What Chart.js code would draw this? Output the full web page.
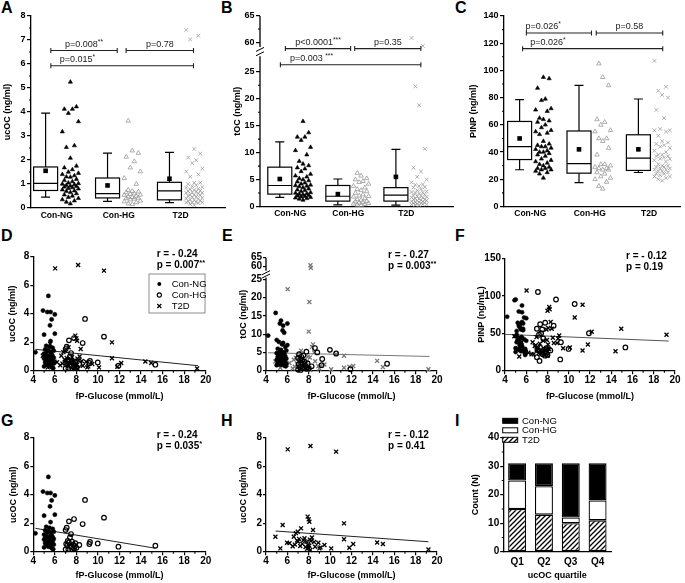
<!DOCTYPE html>
<html>
<head>
<meta charset="utf-8">
<title>Osteocalcin, PINP and fasting glucose</title>
<script src="https://cdn.jsdelivr.net/npm/chart.js@4.4.1/dist/chart.umd.min.js"></script>
<style>
  html, body { margin: 0; padding: 0; background: #fff; }
  body { position: relative; width: 685px; height: 583px; overflow: hidden; }
  canvas { position: absolute; }
  .tag { position: absolute; font: bold 16px 'Liberation Sans', Arial, sans-serif; line-height: 16px; color: #000; }
</style>
</head>
<body>
<div class="tag" style="left:1px;top:0px">A</div>
<div class="tag" style="left:221px;top:0px">B</div>
<div class="tag" style="left:455px;top:0px">C</div>
<div class="tag" style="left:1px;top:228px">D</div>
<div class="tag" style="left:222px;top:228px">E</div>
<div class="tag" style="left:455px;top:228px">F</div>
<div class="tag" style="left:1px;top:413px">G</div>
<div class="tag" style="left:221px;top:413px">H</div>
<div class="tag" style="left:455px;top:413px">I</div>
<script>
// ---- data ----
const groups = ['Con-NG', 'Con-HG', 'T2D'];

// Con-NG subjects (fP-glucose, ucOC, tOC, PINP)
const ngGlucose = [5.4, 4.9, 5.3, 5.6, 6.0, 5.7, 5.55, 6.0, 5.0, 5.6, 4.2,
    5.2, 5.5, 5.8, 5.1, 5.4, 5.9, 5.3, 5.6, 5.0, 5.7, 5.2, 5.5, 5.8, 5.4, 5.1, 5.6, 5.3, 5.9,
    5.5, 5.0, 5.7, 5.2, 5.4, 5.6, 5.8, 5.3, 5.1, 5.5, 5.9, 5.2, 5.6, 5.4, 5.0, 5.7, 5.85];
const ngUcoc = [5.25, 4.22, 4.12, 4.12, 3.95, 3.6, 3.18, 2.6, 2.53, 2.08, 1.29,
    1.75, 1.68, 1.6, 1.5, 1.45, 1.4, 1.35, 1.3, 1.2, 1.15, 1.1, 1.05, 1.02, 1.0, 0.98, 0.95, 0.92, 0.9,
    0.88, 0.85, 0.82, 0.8, 0.76, 0.72, 0.7, 0.65, 0.6, 0.55, 0.5, 0.45, 0.4, 0.35, 0.3, 0.25, 0.18];
const ngToc = [13.7, 15.8, 12.9, 12.3, 12.9, 10.4, 11.0, 7.0, 8.4, 7.6, 9.6,
    7.9, 7.2, 6.5, 6.0, 5.7, 5.5, 5.2, 5.0, 4.8, 4.6, 4.4, 4.2, 4.0, 3.9, 3.8, 3.7, 3.5, 3.3,
    3.1, 3.0, 2.8, 2.6, 2.5, 2.4, 2.3, 2.2, 2.1, 2.0, 1.9, 1.8, 1.7, 1.6, 1.5, 1.4, 1.2];
const ngPinp = [58, 94, 79, 87, 40, 63, 45, 70, 95, 32, 72,
    41, 55, 28, 38, 62, 27, 44, 65, 30, 54, 40, 26, 71, 35, 48, 33, 60, 29,
    43, 25, 56, 39, 31, 78, 42, 28, 53, 37, 21, 64, 44, 34, 46, 27, 24];

// Con-HG subjects
const hgGlucose = [8.8, 10.56, 7.78, 7.31, 8.58, 7.1, 7.0, 7.5, 7.4, 7.2, 7.6, 9.26, 7.3, 7.9, 9.98,
    7.05, 9.2, 7.7, 8.27, 7.15, 15.33, 7.85, 7.45, 11.9, 7.55, 8.0, 7.78, 7.0, 7.25];
const hgUcoc = [3.63, 2.39, 2.29, 2.13, 1.94, 1.68, 1.52, 1.24, 1.0, 0.75, 0.7, 0.68, 0.65, 0.6, 0.58,
    0.55, 0.54, 0.5, 0.47, 0.45, 0.42, 0.4, 0.38, 0.35, 0.3, 0.27, 0.23, 0.16, 0.18];
const hgToc = [5.0, 4.7, 5.2, 3.8, 6.2, 4.5, 3.5, 4.2, 2.8, 3.0, 2.5, 3.2, 2.2, 2.0, 5.7,
    1.8, 1.5, 1.3, 1.2, 1.0, 1.9, 0.9, 0.8, 0.4, 0.7, 0.6, 0.5, 0.3, 0.2];
const hgPinp = [95, 89, 64, 62, 60, 105, 56, 55, 50, 48, 43, 38, 31, 30, 29,
    28, 15, 28, 27, 27, 31, 25, 24, 50, 22, 21, 20, 18, 13];

// T2D subjects
const t2dGlucose = [8.16, 6.03, 10.56, 7.9, 8.0, 8.06, 11.3, 5.56, 7.28, 8.4,
    6.97, 6.8, 4.88, 6.6, 8.3, 7.6, 7.1, 11.3, 8.1, 7.5,
    6.9, 8.2, 7.0, 7.8, 8.5, 14.4, 5.97, 8.9, 6.2, 7.4,
    12.16, 14.94, 6.7, 9.47, 7.95, 8.05, 7.2, 6.5, 8.6, 7.7,
    9.1, 11.8, 8.0, 5.34, 9.0, 10.1, 7.85, 19.2, 8.15];
const t2dUcoc = [7.42, 7.18, 7.02, 2.46, 2.27, 2.1, 1.99, 1.87, 1.64, 1.52,
    1.4, 1.3, 1.05, 1.05, 1.0, 0.95, 0.9, 0.87, 0.85, 0.8,
    0.78, 0.75, 0.72, 0.7, 0.68, 0.65, 0.63, 0.63, 0.6, 0.55,
    0.54, 0.54, 0.5, 0.47, 0.45, 0.42, 0.4, 0.38, 0.35, 0.33,
    0.3, 0.28, 0.25, 0.23, 0.23, 0.23, 0.2, 0.16, 0.12];
const t2dToc = [60.8, 22.3, 4.5, 3.8, 10.7, 18.8, 4.1, 3.2, 5.5, 7.2,
    4.0, 3.5, 2.5, 3.0, 6.5, 2.8, 2.2, 0.8, 3.6, 2.0,
    1.8, 59.3, 1.5, 2.4, 5.0, 2.7, 1.6, 1.2, 2.1, 1.4,
    1.3, 1.0, 1.1, 1.7, 0.9, 0.7, 1.9, 0.6, 2.6, 0.5,
    1.3, 1.1, 0.4, 0.8, 0.6, 0.4, 0.3, 0.4, 0.2];
const t2dPinp = [85, 107, 71, 55, 80, 57, 88, 38, 36, 56,
    45, 33, 46, 38, 65, 40, 30, 27, 29, 26,
    34, 82, 28, 27, 44, 26, 25, 37, 24, 23,
    52, 56, 22, 30, 41, 35, 24, 22, 37, 21,
    47, 35, 20, 19, 43, 31, 28, 48, 29];

// box summaries per group (Con-NG, Con-HG, T2D)
const ucocBox = { low: [0.45, 0.28, 0.22], q1: [0.73, 0.42, 0.34], med: [1.03, 0.6, 0.71], q3: [1.71, 1.25, 1.07], high: [3.95, 2.29, 2.32], mean: [1.55, 0.94, 1.22] };
const tocBox = { low: [1.7, 0.3, 0.25], q1: [2.3, 1.0, 1.0], med: [3.9, 1.9, 2.1], q3: [7.3, 3.9, 3.5], high: [12.0, 5.1, 10.6], mean: [5.1, 2.3, 5.5] };
const pinpBox = { low: [27, 17.5, 25], q1: [34.5, 24.5, 26.5], med: [44, 31.5, 35.5], q3: [62.5, 55.5, 52.7], high: [78.5, 89, 79], mean: [50, 42, 42] };

const ucocP = ['p=0.008**', 'p=0.78', 'p=0.015*'];
const tocP = ['p<0.0001***', 'p=0.35', 'p=0.003 ***'];
const pinpP = ['p=0.026*', 'p=0.58', 'p=0.026*'];

const corrD = ['r = - 0.24', 'p = 0.007**'];
const corrE = ['r = - 0.27', 'p = 0.003**'];
const corrF = ['r = - 0.12', 'p = 0.19'];
const corrG = ['r = - 0.24', 'p = 0.035*'];
const corrH = ['r = - 0.12', 'p = 0.41'];

// regression line end points
const fitD = [[4.2, 1.5], [19.3, 0.35]];
const fitE = [[4.2, 4.9], [19.3, 3.9]];
const fitF = [[4.0, 48.5], [19.4, 39.6]];
const fitG = [[4.2, 1.64], [15.35, 0.24]];
const fitH = [[4.9, 1.45], [19.2, 0.7]];

const quartiles = ['Q1', 'Q2', 'Q3', 'Q4'];
const qNG = [6, 8, 19, 13];
const qHG = [10, 10, 2, 7];
const qT2D = [15, 13, 10, 11];

// ---- setup ----
const FAMILY = "'Liberation Sans', Arial, Helvetica, sans-serif";
const black = '#000';
const clear = 'rgba(0,0,0,0)';
Chart.defaults.font.family = FAMILY;
Chart.defaults.color = black;
Chart.defaults.animation = false;
Chart.defaults.plugins.legend.display = false;
Chart.defaults.plugins.tooltip.enabled = false;
if (Chart.defaults.plugins.colors) Chart.defaults.plugins.colors.enabled = false;

const axisLine = { color: black, width: 1.3 };
const bold = size => ({ size, weight: 'bold' });
// unlabelled ticks are hidden here and redrawn shorter by minorTicks
const tickColor = c => (c.tick && c.tick.label === '' ? clear : black);

function tickList(from, to, step) {
    const t = [];
    for (let v = from; v <= to + 1e-9; v += step) t.push(+v.toFixed(3));
    return t;
}

function place(box) {
    const c = document.createElement('canvas');
    c.width = box[2];
    c.height = box[3];
    c.style.left = box[0] + 'px';
    c.style.top = box[1] + 'px';
    document.body.appendChild(c);
    return c;
}

// turn a wanted plot area (page px) into padding and axis sizes
function frame(box, area) {
    return {
        padding: { left: 0, top: area[1] - box[1], right: box[0] + box[2] - area[2], bottom: 0 },
        yw: area[0] - box[0],
        xh: box[1] + box[3] - area[3]
    };
}

const minorTicks = {
    id: 'minorTicks',
    afterDraw(chart) {
        const { ctx, chartArea: a } = chart;
        ctx.save();
        ctx.strokeStyle = black;
        ctx.lineWidth = 1.1;
        ctx.beginPath();
        Object.values(chart.scales).forEach(s => {
            if (!s.options.grid.drawTicks || s.options.grid.display === false) return;
            s.ticks.forEach((t, i) => {
                if (t.label !== '') return;
                const p = s.getPixelForTick(i);
                if (s.isHorizontal()) { ctx.moveTo(p, a.bottom); ctx.lineTo(p, a.bottom + 2); }
                else { ctx.moveTo(a.left, p); ctx.lineTo(a.left - 2, p); }
            });
        });
        ctx.stroke();
        ctx.restore();
    }
};

// text with trailing asterisks set small and raised
function statText(ctx, text, x, y, size, weight, align) {
    const m = text.match(/^(.*?)(\*+)$/);
    const main = m ? m[1] : text;
    const stars = m ? m[2] : '';
    ctx.font = `${weight} ${size}px ${FAMILY}`;
    const w = ctx.measureText(main).width;
    ctx.font = `${weight} ${size * 0.75}px ${FAMILY}`;
    const ws = stars ? ctx.measureText(stars).width : 0;
    const x0 = align === 'center' ? x - (w + ws) / 2 : x;
    ctx.textAlign = 'left';
    ctx.textBaseline = 'alphabetic';
    ctx.font = `${weight} ${size}px ${FAMILY}`;
    ctx.fillText(main, x0, y);
    if (stars) {
        ctx.font = `${weight} ${size * 0.75}px ${FAMILY}`;
        ctx.fillText(stars, x0 + w, y - size * 0.3);
    }
}

// broken y axis (B and E): two segments plus slash marks
function brokenAxis(lowTop, highBottom, marks) {
    return {
        id: 'brokenAxis',
        afterDraw(chart) {
            const { ctx, chartArea: a, scales: { y } } = chart;
            const ax = a.left;
            ctx.save();
            ctx.strokeStyle = black;
            ctx.lineWidth = 1.3;
            ctx.beginPath();
            ctx.moveTo(ax, y.getPixelForValue(0));
            ctx.lineTo(ax, y.getPixelForValue(lowTop));
            ctx.moveTo(ax, y.getPixelForValue(highBottom));
            ctx.lineTo(ax, a.top);
            ctx.stroke();
            ctx.lineWidth = 1;
            ctx.beginPath();
            marks.forEach(m => {
                const py = y.getPixelForValue(m);
                ctx.moveTo(ax - 4, py + 2);
                ctx.lineTo(ax + 4, py - 2);
            });
            ctx.stroke();
            ctx.restore();
        }
    };
}

// ---- box plot panels (A, B, C) ----
const SPREAD = [0, -1, 1, -2, 2, -0.5, 0.5, -1.5, 1.5];
function swarm(values, cat, map) {
    const order = values.map((v, i) => i).sort((a, b) => values[a] - values[b]);
    return order.map((idx, r) => ({ x: cat + 0.22 + SPREAD[r % SPREAD.length] * 0.065, y: map(values[idx]) }));
}

const boxMarks = [
    { pointStyle: 'triangle', pointRadius: 2.4, pointBackgroundColor: black, pointBorderColor: black, pointBorderWidth: 0.6, backgroundColor: black, borderColor: black },
    { pointStyle: 'triangle', pointRadius: 2.6, pointBackgroundColor: clear, pointBorderColor: '#9a9a9a', pointBorderWidth: 0.8, backgroundColor: clear, borderColor: '#9a9a9a' },
    { pointStyle: 'crossRot', pointRadius: 2.6, pointBorderColor: '#9a9a9a', pointBorderWidth: 0.8, backgroundColor: clear, borderColor: '#9a9a9a' }
];

function boxPlugin(stats, map) {
    return {
        id: 'boxes',
        beforeDatasetsDraw(chart) {
            const { ctx, scales: { x, y } } = chart;
            const py = v => y.getPixelForValue(map(v));
            ctx.save();
            ctx.strokeStyle = black;
            ctx.fillStyle = black;
            ctx.lineWidth = 1.2;
            stats.med.forEach((_, i) => {
                const cx = x.getPixelForValue(i + 1 - 0.18);
                const w = 12, cap = 4.5;
                const lo = py(stats.low[i]), q1 = py(stats.q1[i]), md = py(stats.med[i]);
                const q3 = py(stats.q3[i]), hi = py(stats.high[i]), mn = py(stats.mean[i]);
                ctx.beginPath();
                ctx.moveTo(cx, hi); ctx.lineTo(cx, q3);
                ctx.moveTo(cx, q1); ctx.lineTo(cx, lo);
                ctx.moveTo(cx - cap, hi); ctx.lineTo(cx + cap, hi);
                ctx.moveTo(cx - cap, lo); ctx.lineTo(cx + cap, lo);
                ctx.moveTo(cx - w, md); ctx.lineTo(cx + w, md);
                ctx.stroke();
                ctx.strokeRect(cx - w, q3, 2 * w, q1 - q3);
                ctx.fillRect(cx - 2.3, mn - 2.3, 4.6, 4.6);
            });
            ctx.restore();
        }
    };
}

// spans: [from, to, height (plot units), text anchor ('mid' or x in plot units)]
function bracketPlugin(spans, texts) {
    return {
        id: 'brackets',
        afterDatasetsDraw(chart) {
            const { ctx, scales: { x, y } } = chart;
            ctx.save();
            ctx.strokeStyle = '#222';
            ctx.fillStyle = '#222';
            ctx.lineWidth = 1.1;
            spans.forEach((s, i) => {
                const x1 = x.getPixelForValue(s[0]), x2 = x.getPixelForValue(s[1]);
                const yy = y.getPixelForValue(s[2]);
                ctx.beginPath();
                ctx.moveTo(x1, yy); ctx.lineTo(x2, yy);
                ctx.moveTo(x1, yy - 2.5); ctx.lineTo(x1, yy + 2.5);
                ctx.moveTo(x2, yy - 2.5); ctx.lineTo(x2, yy + 2.5);
                ctx.stroke();
                if (s[3] === 'mid') statText(ctx, texts[i], (x1 + x2) / 2, yy - 4, 9, 'normal', 'center');
                else statText(ctx, texts[i], x.getPixelForValue(s[3]), yy - 4, 9, 'normal', 'left');
            });
            ctx.restore();
        }
    };
}

function boxPanel(box, area, o) {
    const f = frame(box, area);
    const map = o.map || (v => v);
    const datasets = o.values.map((vals, g) => Object.assign({ data: swarm(vals, g + 1, map), clip: false }, boxMarks[g]));
    return new Chart(place(box), {
        type: 'scatter',
        data: { datasets },
        options: {
            responsive: false,
            layout: { padding: f.padding },
            scales: {
                x: {
                    type: 'linear', min: o.xMin, max: o.xMax,
                    afterFit: s => { s.height = f.xh; },
                    afterBuildTicks: s => { s.ticks = groups.map((g, i) => ({ value: i + 1 })); },
                    border: axisLine,
                    grid: { display: false, drawTicks: false },
                    ticks: { autoSkip: false, maxRotation: 0, padding: 2.5, font: bold(8.5), callback: v => groups[v - 1] }
                },
                y: {
                    type: 'linear', min: 0, max: o.yMax,
                    afterFit: s => { s.width = f.yw; },
                    afterBuildTicks: s => { s.ticks = o.yReal.map(v => ({ value: map(v) })); },
                    border: o.broken ? { display: false } : axisLine,
                    grid: { drawOnChartArea: false, color: black, tickColor, lineWidth: 1.2, tickLength: 4 },
                    ticks: { autoSkip: false, padding: 1.5, font: bold(9), callback: (v, i) => (o.yReal[i] % o.major === 0 ? String(o.yReal[i]) : '') },
                    title: { display: true, text: o.title, font: bold(9), padding: { top: o.titlePad, bottom: 0 } }
                }
            }
        },
        plugins: [boxPlugin(o.stats, map), bracketPlugin(o.spans, o.pText), minorTicks].concat(o.broken ? [o.broken] : [])
    });
}

// ---- glucose scatter panels (D-H) ----
const markNG = { pointStyle: 'circle', pointRadius: 2.1, pointBackgroundColor: black, pointBorderColor: black, pointBorderWidth: 0.5, backgroundColor: black, borderColor: black };
const markHG = { pointStyle: 'circle', pointRadius: 2.3, pointBackgroundColor: clear, pointBorderColor: black, pointBorderWidth: 1.2, backgroundColor: clear, borderColor: black };
const markT2D = c => ({ pointStyle: 'crossRot', pointRadius: 2.8, pointBorderColor: c, pointBorderWidth: 1.3, backgroundColor: clear, borderColor: c });

function pairs(xs, ys, map) {
    return xs.map((x, i) => ({ x, y: map ? map(ys[i]) : ys[i] }));
}
function series(xs, ys, mark, map) {
    return Object.assign({ data: pairs(xs, ys, map), clip: false }, mark);
}
function fitLine(ends, color) {
    return {
        data: ends.map(p => ({ x: p[0], y: p[1] })),
        showLine: true, borderColor: color, backgroundColor: color, borderWidth: 1,
        pointRadius: 0, order: 10, clip: false
    };
}

function corrText(lines) {
    return {
        id: 'corrText',
        afterDraw(chart) {
            const { ctx, chartArea: a } = chart;
            ctx.save();
            ctx.fillStyle = black;
            statText(ctx, lines[0], a.right - 49, a.top + 0.3, 10, 'bold', 'left');
            statText(ctx, lines[1], a.right - 49, a.top + 11.3, 10, 'bold', 'left');
            ctx.restore();
        }
    };
}

const insetLegend = {
    id: 'insetLegend',
    afterDraw(chart) {
        const { ctx, chartArea: a } = chart;
        const bx = a.right - 56.7, by = a.top + 17.3;
        ctx.save();
        ctx.strokeStyle = '#8c8c8c';
        ctx.lineWidth = 1;
        ctx.strokeRect(bx, by, 56, 39);
        ctx.font = `9.5px ${FAMILY}`;
        ctx.textBaseline = 'middle';
        groups.forEach((g, i) => {
            const cx = bx + 10.3, cy = by + 10 + i * 11;
            ctx.strokeStyle = black;
            ctx.fillStyle = black;
            ctx.beginPath();
            if (i === 0) { ctx.arc(cx, cy, 2, 0, Math.PI * 2); ctx.fill(); }
            else if (i === 1) { ctx.lineWidth = 1.1; ctx.arc(cx, cy, 2.1, 0, Math.PI * 2); ctx.stroke(); }
            else {
                ctx.lineWidth = 1.2;
                ctx.moveTo(cx - 2, cy - 2); ctx.lineTo(cx + 2, cy + 2);
                ctx.moveTo(cx - 2, cy + 2); ctx.lineTo(cx + 2, cy - 2);
                ctx.stroke();
            }
            ctx.fillText(g, bx + 22.7, cy + 0.5);
        });
        ctx.restore();
    }
};

function glucosePanel(box, area, o) {
    const f = frame(box, area);
    const map = o.map || (v => v);
    return new Chart(place(box), {
        type: 'scatter',
        data: { datasets: o.datasets },
        options: {
            responsive: false,
            layout: { padding: f.padding },
            scales: {
                x: {
                    type: 'linear', min: 4, max: 20,
                    afterFit: s => { s.height = f.xh; },
                    afterBuildTicks: s => { s.ticks = tickList(4, 20, 1).map(v => ({ value: v })); },
                    border: axisLine,
                    grid: { drawOnChartArea: false, color: black, tickColor, lineWidth: 1.2, tickLength: 3.5 },
                    ticks: { autoSkip: false, maxRotation: 0, padding: 0, font: bold(10), callback: v => (v % 2 === 0 ? String(v) : '') },
                    title: { display: true, text: 'fP-Glucose (mmol/L)', font: bold(9), padding: { top: 0, bottom: o.xTitleBottom } }
                },
                y: {
                    type: 'linear', min: 0, max: o.yMax,
                    afterFit: s => { s.width = f.yw; },
                    afterBuildTicks: s => { s.ticks = o.yReal.map(v => ({ value: map(v) })); },
                    border: o.broken ? { display: false } : axisLine,
                    grid: { drawOnChartArea: false, color: black, lineWidth: 1.2, tickLength: 3 },
                    ticks: { autoSkip: false, padding: 1, font: bold(10), callback: (v, i) => String(o.yReal[i]) },
                    title: { display: true, text: o.yTitle, font: bold(9), padding: { top: o.yTitlePad, bottom: 0 } }
                }
            }
        },
        plugins: [corrText(o.corr), minorTicks].concat(o.plugins || [])
    });
}

// broken-scale mappings for tOC
const mapB = v => (v <= 30 ? v : 30.5 + (v - 60) * 0.97);
const mapE = v => (v <= 30 ? v : 28.45 + (v - 60) * 0.49);

// ---- row 1 ----
boxPanel([0, 0, 230, 225], [31, 16, 227, 208], {
    values: [ngUcoc, hgUcoc, t2dUcoc], stats: ucocBox,
    yMax: 8, yReal: tickList(0, 8, 0.5), major: 1,
    title: 'ucOC (ng/ml)', titlePad: 2.6, xMin: 0.584, xMax: 3.72,
    spans: [[0.904, 1.976, 6.56, 'mid'], [2.12, 3.208, 6.56, 'mid'], [0.904, 3.208, 5.93, 1.048]],
    pText: ucocP
});

boxPanel([228, 0, 230, 225], [260, 16, 458, 206.5], {
    values: [ngToc, hgToc, t2dToc], stats: tocBox, map: mapB,
    yMax: 35.35, yReal: tickList(0, 25, 2.5).concat([60, 62.5, 65]), major: 5,
    title: 'tOC (ng/ml)', titlePad: 4.6, xMin: 0.479, xMax: 3.807,
    spans: [[0.916, 2.04, 29.3, 'mid'], [2.11, 3.25, 29.3, 'mid'], [0.83, 3.25, 26.3, 0.995]],
    pText: tocP,
    broken: brokenAxis(27.9, 29.6, [28.35, 29.15])
});

boxPanel([456, 0, 229, 225], [504, 16, 685, 206.5], {
    values: [ngPinp, hgPinp, t2dPinp], stats: pinpBox,
    yMax: 140, yReal: tickList(0, 140, 10), major: 20,
    title: 'PINP (ng/ml)', titlePad: 12.1, xMin: 0.557, xMax: 3.524,
    spans: [[0.934, 2.03, 127.5, 0.918], [2.11, 3.23, 127.5, 'mid'], [0.87, 3.23, 116, 1.0]],
    pText: pinpP
});

// ---- row 2 ----
glucosePanel([0, 195, 228, 212], [33.3, 256.7, 205.7, 370.7], {
    datasets: [fitLine(fitD, '#222'),
        series(ngGlucose, ngUcoc, markNG), series(hgGlucose, hgUcoc, markHG), series(t2dGlucose, t2dUcoc, markT2D(black))],
    yMax: 8, yReal: [0, 2, 4, 6, 8], yTitle: 'ucOC (ng/ml)', yTitlePad: 7, xTitleBottom: 4.9,
    corr: corrD, plugins: [insetLegend]
});

glucosePanel([228, 195, 228, 212], [266, 257.7, 437, 370.7], {
    datasets: [fitLine(fitE, '#777'),
        series(ngGlucose, ngToc, markNG, mapE), series(hgGlucose, hgToc, markHG, mapE), series(t2dGlucose, t2dToc, markT2D('#7a7a7a'), mapE)],
    map: mapE, yMax: 30.9, yReal: [0, 5, 10, 15, 20, 25, 60, 65], yTitle: 'tOC (ng/ml)', yTitlePad: 10.3, xTitleBottom: 4.9,
    corr: corrE, broken: true, plugins: [brokenAxis(25.5, 27.3, [25.9, 26.8])]
});

glucosePanel([456, 195, 229, 212], [505, 258.3, 675, 370.7], {
    datasets: [fitLine(fitF, '#555'),
        series(ngGlucose, ngPinp, markNG), series(hgGlucose, hgPinp, markHG), series(t2dGlucose, t2dPinp, markT2D(black))],
    yMax: 150, yReal: [0, 50, 100, 150], yTitle: 'PINP (ng/mL)', yTitlePad: 20.3, xTitleBottom: 4.9,
    corr: corrF
});

// ---- row 3 ----
glucosePanel([0, 390, 228, 193], [33.3, 437.7, 205.7, 551.7], {
    datasets: [fitLine(fitG, '#222'), series(ngGlucose, ngUcoc, markNG), series(hgGlucose, hgUcoc, markHG)],
    yMax: 8, yReal: [0, 2, 4, 6, 8], yTitle: 'ucOC (ng/ml)', yTitlePad: 7.9, xTitleBottom: 2,
    corr: corrG
});

glucosePanel([228, 390, 228, 193], [266, 437.7, 437, 551.7], {
    datasets: [fitLine(fitH, '#222'), series(t2dGlucose, t2dUcoc, markT2D(black))],
    yMax: 8, yReal: [0, 2, 4, 6, 8], yTitle: 'ucOC (ng/ml)', yTitlePad: 10.6, xTitleBottom: 2,
    corr: corrH
});

// ---- panel I: group counts per ucOC quartile ----
function makeHatch(ctx) {
    const p = document.createElement('canvas');
    p.width = 5;
    p.height = 5;
    const g = p.getContext('2d');
    g.fillStyle = '#fff';
    g.fillRect(0, 0, 5, 5);
    g.strokeStyle = black;
    g.lineWidth = 1.3;
    g.beginPath();
    g.moveTo(-1, 6); g.lineTo(6, -1);
    g.moveTo(-1, 1); g.lineTo(1, -1);
    g.moveTo(4, 6); g.lineTo(6, 4);
    g.stroke();
    return ctx.createPattern(p, 'repeat');
}

const quartileLegend = {
    id: 'quartileLegend',
    afterDraw(chart) {
        const { ctx, chartArea: a } = chart;
        const sets = chart.data.datasets.slice().reverse();
        ctx.save();
        ctx.font = `9.5px ${FAMILY}`;
        ctx.textBaseline = 'middle';
        sets.forEach((d, i) => {
            const x = a.left - 1, y = a.top - 19.4 + i * 9.5;
            ctx.fillStyle = d.backgroundColor;
            ctx.fillRect(x, y, 15, 5);
            ctx.strokeStyle = black;
            ctx.lineWidth = 1;
            ctx.strokeRect(x, y, 15, 5);
            ctx.fillStyle = black;
            ctx.fillText(d.label, x + 19.3, y + 2.8);
        });
        ctx.restore();
    }
};

const iBox = [456, 390, 229, 193];
const iFrame = frame(iBox, [503.7, 437.7, 611, 551.7]);
const iCanvas = place(iBox);
const stripes = makeHatch(iCanvas.getContext('2d'));

new Chart(iCanvas, {
    type: 'bar',
    data: {
        labels: quartiles,
        datasets: [
            { label: 'T2D', data: qT2D, backgroundColor: stripes },
            { label: 'Con-HG', data: qHG, backgroundColor: '#fff' },
            { label: 'Con-NG', data: qNG, backgroundColor: black }
        ].map(d => Object.assign({ borderColor: black, borderWidth: 1.3, borderSkipped: false, barPercentage: 0.67, categoryPercentage: 1 }, d))
    },
    options: {
        responsive: false,
        layout: { padding: iFrame.padding },
        scales: {
            x: {
                stacked: true,
                afterFit: s => { s.height = iFrame.xh; },
                border: axisLine,
                grid: { display: false, drawTicks: false },
                ticks: { padding: 5, font: bold(10) },
                title: { display: true, text: 'ucOC quartile', font: bold(9), padding: { top: 0, bottom: 2 } }
            },
            y: {
                stacked: true, min: 0, max: 40,
                afterFit: s => { s.width = iFrame.yw; },
                afterBuildTicks: s => { s.ticks = tickList(0, 40, 5).map(v => ({ value: v })); },
                border: axisLine,
                grid: { drawOnChartArea: false, color: black, tickColor, lineWidth: 1.2, tickLength: 3.5 },
                ticks: { autoSkip: false, padding: 1, font: bold(10), callback: v => (v % 10 === 0 ? String(v) : '') },
                title: { display: true, text: 'Count (N)', font: bold(9), padding: { top: 14.6, bottom: 0 } }
            }
        }
    },
    plugins: [quartileLegend, minorTicks]
});
</script>
</body>
</html>
